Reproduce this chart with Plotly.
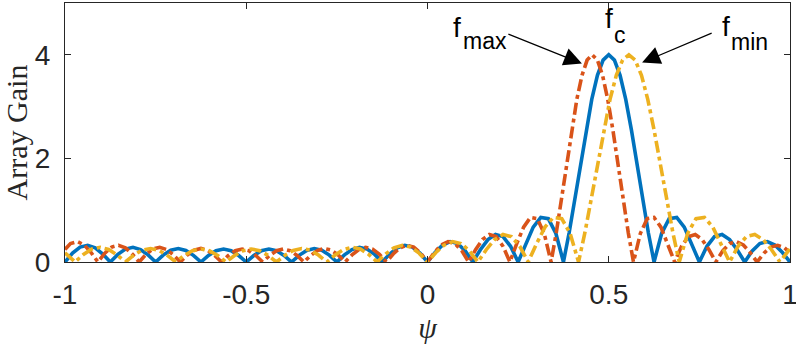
import plotly.graph_objects as go

# ---------------- data ----------------
x_ticks = [-1, -0.5, 0, 0.5, 1]
x_ticklabels = ["-1", "-0.5", "0", "0.5", "1"]
y_ticks = [0, 2, 4]
y_ticklabels = ["0", "2", "4"]

# f_c (blue, solid)
blue_psi = [-1.0, -0.97917, -0.95833, -0.9375, -0.91667, -0.89583, -0.875,
            -0.85417, -0.83333, -0.8125, -0.79167, -0.77083, -0.75,
            -0.72917, -0.70833, -0.6875, -0.66667, -0.64583, -0.625,
            -0.60417, -0.58333, -0.5625, -0.54167, -0.52083, -0.5,
            -0.47917, -0.45833, -0.4375, -0.41667, -0.39583, -0.375,
            -0.35417, -0.33333, -0.3125, -0.29167, -0.27083, -0.25,
            -0.22917, -0.20833, -0.1875, -0.16667, -0.14583, -0.125,
            -0.10417, -0.08333, -0.0625, -0.04167, -0.02083, 0.0,
            0.02083, 0.04167, 0.0625, 0.08333, 0.10417, 0.125,
            0.14583, 0.16667, 0.1875, 0.20833, 0.22917, 0.25,
            0.27083, 0.29167, 0.3125, 0.33333, 0.35417, 0.375,
            0.39063, 0.40625, 0.42188, 0.4375, 0.45313, 0.46875, 0.48438, 0.5,
            0.51563, 0.53125, 0.54688, 0.5625, 0.57813, 0.59375, 0.60938, 0.625,
            0.64583, 0.66667, 0.6875, 0.70833, 0.72917, 0.75,
            0.77083, 0.79167, 0.8125, 0.83333, 0.85417, 0.875,
            0.89583, 0.91667, 0.9375, 0.95833, 0.97917, 1.0]
blue_gain = [0.0, 0.171, 0.288, 0.323, 0.273, 0.154, 0.0,
             0.147, 0.250, 0.284, 0.241, 0.137, 0.0,
             0.134, 0.229, 0.261, 0.224, 0.128, 0.0,
             0.127, 0.218, 0.251, 0.217, 0.125, 0.0,
             0.125, 0.217, 0.251, 0.218, 0.127, 0.0,
             0.128, 0.224, 0.261, 0.229, 0.134, 0.0,
             0.137, 0.241, 0.284, 0.250, 0.147, 0.0,
             0.154, 0.273, 0.323, 0.288, 0.171, 0.0,
             0.183, 0.328, 0.394, 0.356, 0.215, 0.0,
             0.237, 0.433, 0.530, 0.490, 0.303, 0.0,
             0.355, 0.674, 0.861, 0.837, 0.550, 0.0,
             0.560, 1.205, 1.887, 2.551, 3.140, 3.603, 3.898, 4.0,
             3.898, 3.603, 3.140, 2.551, 1.887, 1.205, 0.560, 0.0,
             0.550, 0.837, 0.861, 0.674, 0.355, 0.0,
             0.303, 0.490, 0.530, 0.433, 0.237, 0.0,
             0.215, 0.356, 0.394, 0.328, 0.183, 0.0]

# f_max (red, dash-dot)
red_psi = [-1.0, -0.98485, -0.96591, -0.94697, -0.92803,
           -0.90909, -0.89015, -0.87121, -0.85227, -0.83333, -0.81439, -0.79545,
           -0.77652, -0.75758, -0.73864, -0.71970, -0.70076, -0.68182,
           -0.66288, -0.64394, -0.625, -0.60606, -0.58712, -0.56818,
           -0.54924, -0.53030, -0.51136, -0.49242, -0.47348, -0.45455,
           -0.43561, -0.41667, -0.39773, -0.37879, -0.35985, -0.34091,
           -0.32197, -0.30303, -0.28409, -0.26515, -0.24621, -0.22727,
           -0.20833, -0.18939, -0.17045, -0.15152, -0.13258, -0.11364,
           -0.09470, -0.07576, -0.05682, -0.03788, -0.01894, 0.0,
           0.01894, 0.03788, 0.05682, 0.07576, 0.09470, 0.11364,
           0.13258, 0.15152, 0.17045, 0.18939, 0.20833, 0.22727,
           0.24621, 0.26515, 0.28409, 0.30303, 0.32197, 0.34091,
           0.35511, 0.36932, 0.38352, 0.39773, 0.41193, 0.42614, 0.44034, 0.45455,
           0.46875, 0.48295, 0.49716, 0.51136, 0.52557, 0.53977, 0.55398, 0.56818,
           0.58712, 0.60606, 0.625, 0.64394, 0.66288, 0.68182,
           0.70076, 0.71970, 0.73864, 0.75758, 0.77652, 0.79545,
           0.81439, 0.83333, 0.85227, 0.87121, 0.89015, 0.90909,
           0.92803, 0.94697, 0.96591, 0.98485, 1.0]
red_gain = [0.243, 0.356, 0.394, 0.328, 0.183,
            0.0, 0.171, 0.288, 0.323, 0.273, 0.154, 0.0,
            0.147, 0.250, 0.284, 0.241, 0.137, 0.0,
            0.134, 0.229, 0.261, 0.224, 0.128, 0.0,
            0.127, 0.218, 0.251, 0.217, 0.125, 0.0,
            0.125, 0.217, 0.251, 0.218, 0.127, 0.0,
            0.128, 0.224, 0.261, 0.229, 0.134, 0.0,
            0.137, 0.241, 0.284, 0.250, 0.147, 0.0,
            0.154, 0.273, 0.323, 0.288, 0.171, 0.0,
            0.183, 0.328, 0.394, 0.356, 0.215, 0.0,
            0.237, 0.433, 0.530, 0.490, 0.303, 0.0,
            0.355, 0.674, 0.861, 0.837, 0.550, 0.0,
            0.560, 1.205, 1.887, 2.551, 3.140, 3.603, 3.898, 4.0,
            3.898, 3.603, 3.140, 2.551, 1.887, 1.205, 0.560, 0.0,
            0.550, 0.837, 0.861, 0.674, 0.355, 0.0,
            0.303, 0.490, 0.530, 0.433, 0.237, 0.0,
            0.215, 0.356, 0.394, 0.328, 0.183, 0.0,
            0.171, 0.288, 0.323, 0.273, 0.178]

# f_min (yellow, dash-dot)
yellow_psi = [-1.0,
              -0.97222, -0.94907, -0.92593, -0.90278, -0.87963, -0.85648, -0.83333,
              -0.81019, -0.78704, -0.76389, -0.74074, -0.71759, -0.69444,
              -0.67130, -0.64815, -0.625, -0.60185, -0.57870, -0.55556,
              -0.53241, -0.50926, -0.48611, -0.46296, -0.43981, -0.41667,
              -0.39352, -0.37037, -0.34722, -0.32407, -0.30093, -0.27778,
              -0.25463, -0.23148, -0.20833, -0.18519, -0.16204, -0.13889,
              -0.11574, -0.09259, -0.06944, -0.04630, -0.02315, 0.0,
              0.02315, 0.04630, 0.06944, 0.09259, 0.11574, 0.13889,
              0.16204, 0.18519, 0.20833, 0.23148, 0.25463, 0.27778,
              0.30093, 0.32407, 0.34722, 0.37037, 0.39352, 0.41667,
              0.43403, 0.45139, 0.46875, 0.48611, 0.50347, 0.52083, 0.53819, 0.55556,
              0.57292, 0.59028, 0.60764, 0.625, 0.64236, 0.65972, 0.67708, 0.69444,
              0.71759, 0.74074, 0.76389, 0.78704, 0.81019, 0.83333,
              0.85648, 0.87963, 0.90278, 0.92593, 0.94907, 0.97222,
              0.99537, 1.0]
yellow_gain = [0.178,
               0.0, 0.147, 0.250, 0.284, 0.241, 0.137, 0.0,
               0.134, 0.229, 0.261, 0.224, 0.128, 0.0,
               0.127, 0.218, 0.251, 0.217, 0.125, 0.0,
               0.125, 0.217, 0.251, 0.218, 0.127, 0.0,
               0.128, 0.224, 0.261, 0.229, 0.134, 0.0,
               0.137, 0.241, 0.284, 0.250, 0.147, 0.0,
               0.154, 0.273, 0.323, 0.288, 0.171, 0.0,
               0.183, 0.328, 0.394, 0.356, 0.215, 0.0,
               0.237, 0.433, 0.530, 0.490, 0.303, 0.0,
               0.355, 0.674, 0.861, 0.837, 0.550, 0.0,
               0.560, 1.205, 1.887, 2.551, 3.140, 3.603, 3.898, 4.0,
               3.898, 3.603, 3.140, 2.551, 1.887, 1.205, 0.560, 0.0,
               0.550, 0.837, 0.861, 0.674, 0.355, 0.0,
               0.303, 0.490, 0.530, 0.433, 0.237, 0.0,
               0.215, 0.243]

# ---------------- figure ----------------
AX = "#262626"
SANS = "Liberation Sans, Arial, sans-serif"
SERIF = "Liberation Serif, Times New Roman, serif"
DASHDOT = "12px,4px,4px,4px"
LW = 3.6

fig = go.Figure()
fig.add_trace(go.Scatter(x=blue_psi, y=blue_gain, mode="lines",
                         line=dict(color="#0072BD", width=LW), name="f_c"))
fig.add_trace(go.Scatter(x=red_psi, y=red_gain, mode="lines",
                         line=dict(color="#D95319", width=LW, dash=DASHDOT), name="f_max"))
fig.add_trace(go.Scatter(x=yellow_psi, y=yellow_gain, mode="lines",
                         line=dict(color="#EDB120", width=LW, dash=DASHDOT), name="f_min"))

axis_common = dict(showline=True, linecolor=AX, linewidth=1, mirror="ticks",
                   ticks="inside", ticklen=6, tickwidth=1, tickcolor=AX,
                   showgrid=False, zeroline=False, automargin=False,
                   ticklabeloverflow="allow",
                   tickfont=dict(family=SANS, size=28, color=AX))

fig.update_layout(
    width=796, height=346,
    margin=dict(l=65, r=6, t=3, b=84),
    plot_bgcolor="white", paper_bgcolor="white",
    showlegend=False,
    xaxis=dict(range=[-1, 1], tickvals=x_ticks, ticktext=x_ticklabels,
               ticklabelstandoff=7,
               title=dict(text="<i>ψ</i>", font=dict(family=SERIF, size=30, color=AX),
                          standoff=8),
               **axis_common),
    yaxis=dict(range=[0, 5], tickvals=y_ticks, ticktext=y_ticklabels,
               ticklabelstandoff=8,
               title=dict(text="Array Gain", font=dict(family=SERIF, size=30, color=AX),
                          standoff=6),
               **axis_common),
)

# text labels: main letter and (lowered) subscript as in the MATLAB tex rendering
big = dict(family=SANS, size=28, color="#000000")
small = dict(family=SANS, size=23, color="#000000")
labels = [
    # (text, x, y_paper, font)
    ("f", 0.0648, 0.9062, big), ("max", 0.0924, 0.8533, small),
    ("f", 0.4841, 0.9409, big), ("c", 0.5090, 0.8764, small),
    ("f", 0.8069, 0.9100, big), ("min", 0.8317, 0.8494, small),
]
for txt, xx, yy, fnt in labels:
    fig.add_annotation(x=xx, y=yy, xref="x", yref="paper", text=txt,
                       showarrow=False, xanchor="left", yanchor="middle", font=fnt)

# arrows
fig.add_annotation(x=0.426, y=3.83, ax=0.219, ay=4.41, xref="x", yref="y",
                   axref="x", ayref="y", text="", showarrow=True,
                   arrowhead=2, arrowsize=3, arrowwidth=1.2, arrowcolor="#000000")
fig.add_annotation(x=0.592, y=3.85, ax=0.788, ay=4.43, xref="x", yref="y",
                   axref="x", ayref="y", text="", showarrow=True,
                   arrowhead=2, arrowsize=3, arrowwidth=1.2, arrowcolor="#000000")

fig.write_html("out.html")
